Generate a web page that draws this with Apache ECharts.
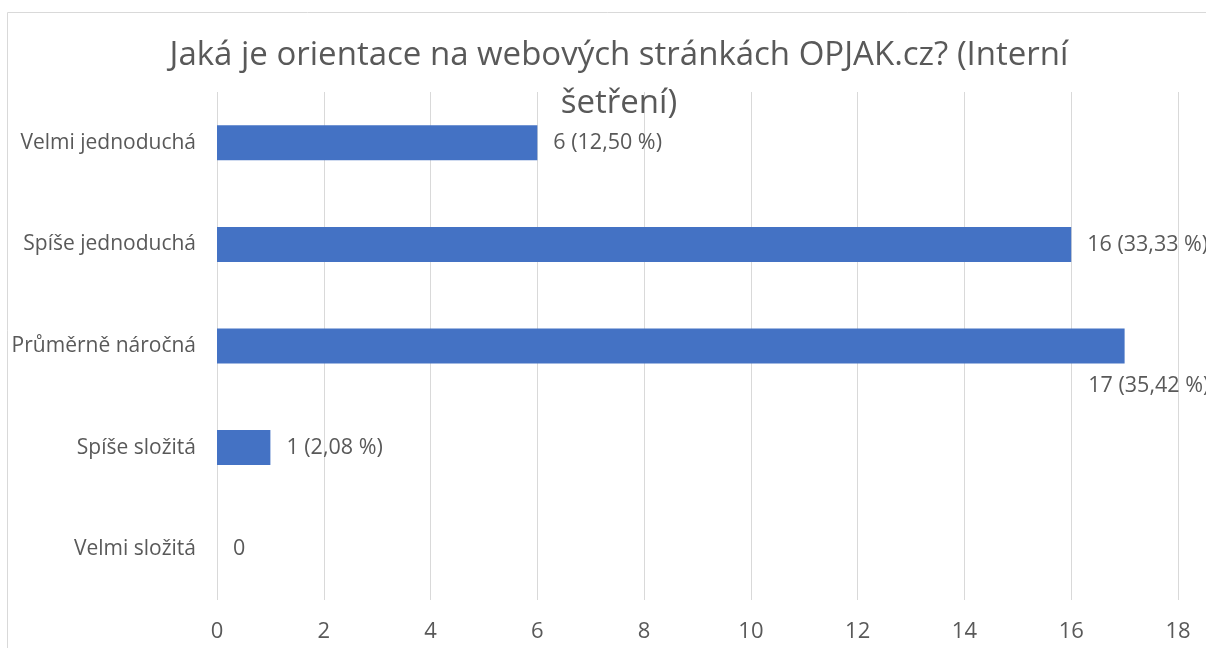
<!DOCTYPE html>
<html>
<head>
<meta charset="utf-8">
<script src="https://cdn.jsdelivr.net/npm/echarts@6/dist/echarts.min.js"></script>
<style>
  html, body { margin: 0; padding: 0; background: #fff; }
  #main { width: 1206px; height: 648px; }
</style>
</head>
<body>
<div id="main"></div>
<script>
// data
const categories = ['Velmi jednoduchá', 'Spíše jednoduchá', 'Průměrně náročná', 'Spíše složitá', 'Velmi složitá']
const counts = [6, 16, 17, 1, 0]
const percents = ['12,50', '33,33', '35,42', '2,08', null]
const xTicks = [0, 2, 4, 6, 8, 10, 12, 14, 16, 18]

const textColor = '#595959'
const font = '"Open Sans", "Noto Sans", sans-serif'

let myChart = echarts.init(document.getElementById('main'))

const seriesData = counts.map((v, i) => {
    let item = {value: v}
    // Excel pushed the longest label under its bar
    if (i === 2) {
        item.label = {position: ['96%', '165%'], align: 'left', verticalAlign: 'middle'}
    }
    return item
})

let option = {
    title: {
        text: 'Jaká je orientace na webových stránkách OPJAK.cz? (Interní\nšetření)',
        left: 614,
        top: 27,
        textAlign: 'center',
        textStyle: {
            color: textColor,
            fontFamily: font,
            fontSize: 33,
            fontWeight: 'normal',
            lineHeight: 48
        }
    },
    graphic: [{
        type: 'rect',
        shape: {x: 7.5, y: 12.5, width: 1250, height: 700},
        style: {fill: 'none', stroke: '#d9d9d9', lineWidth: 1},
        silent: true
    }],
    grid: {left: 217, right: 28, top: 92, bottom: 48, containLabel: false},
    xAxis: {
        type: 'value',
        min: xTicks[0],
        max: xTicks[xTicks.length - 1],
        interval: xTicks[1] - xTicks[0],
        axisLine: {show: false},
        axisTick: {show: false},
        splitLine: {lineStyle: {color: '#d9d9d9', width: 1}},
        axisLabel: {color: textColor, fontFamily: font, fontSize: 22, margin: 21}
    },
    yAxis: {
        type: 'category',
        data: categories,
        inverse: true,
        axisLine: {show: false},
        axisTick: {show: false},
        axisLabel: {color: textColor, fontFamily: font, fontSize: 21, margin: 21}
    },
    series: [{
        type: 'bar',
        data: seriesData,
        barWidth: 35,
        itemStyle: {color: '#4472C4'},
        label: {
            show: true,
            position: 'right',
            distance: 16,
            color: textColor,
            fontFamily: font,
            fontSize: 21.5,
            formatter: (p) => {
                let pct = percents[p.dataIndex]
                return pct === null ? String(p.value) : p.value + ' (' + pct + ' %)'
            }
        }
    }],
    animation: false
}
myChart.setOption(option)
</script>
</body>
</html>
